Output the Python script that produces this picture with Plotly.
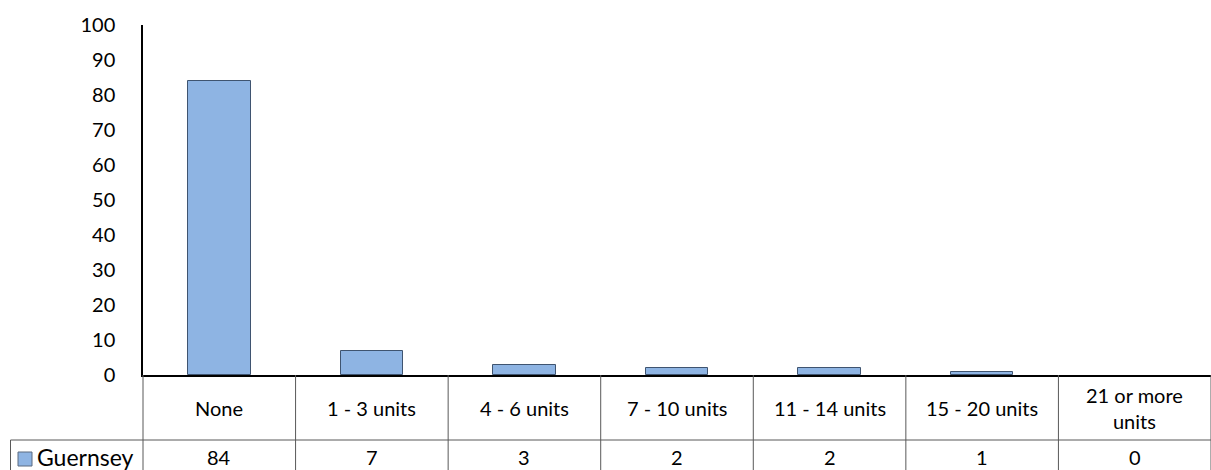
import plotly.graph_objects as go

# Units of alcohol per week - survey share (%)
categories = ["None", "1 - 3 units", "4 - 6 units", "7 - 10 units",
              "11 - 14 units", "15 - 20 units", "21 or more<br>units"]
guernsey = [84, 7, 3, 2, 2, 1, 0]
series_name = "Guernsey"
y_ticks = [0, 10, 20, 30, 40, 50, 60, 70, 80, 90, 100]

W, H = 1211, 470
ML, MR, MT, MB = 143, 0, 25, 95
plot_w = W - ML - MR
plot_h = H - MT - MB
n = len(categories)

FONT = "Lato, 'Open Sans', sans-serif"
BAR_FILL = "#8EB4E3"
BAR_LINE = "#3F5470"
TABLE_LINE = "#595959"


def px_x(px):
    return (px - ML) / plot_w


def px_y(px):
    return (H - MB - px) / plot_h


# empty categories get no visible outline
outline = [BAR_LINE if v > 0 else "rgba(0,0,0,0)" for v in guernsey]

fig = go.Figure(go.Bar(
    x=list(range(n)), y=guernsey, width=0.41,
    marker=dict(color=BAR_FILL, line=dict(color=outline, width=1)),
    showlegend=False, hoverinfo="skip",
))

shapes = []
# vertical dividers of the data table
for i in range(n + 1):
    xp = i / n
    shapes.append(dict(type="line", xref="paper", yref="paper",
                       x0=xp, x1=xp, y0=0, y1=px_y(H),
                       line=dict(color=TABLE_LINE, width=1)))
# horizontal divider between category row and value row
shapes.append(dict(type="line", xref="paper", yref="paper",
                   x0=px_x(10.5), x1=1, y0=px_y(440), y1=px_y(440),
                   line=dict(color=TABLE_LINE, width=1)))
# left edge of the series-name cell
shapes.append(dict(type="line", xref="paper", yref="paper",
                   x0=px_x(10.5), x1=px_x(10.5), y0=px_y(440), y1=px_y(H),
                   line=dict(color=TABLE_LINE, width=1)))
# legend key
shapes.append(dict(type="rect", xref="paper", yref="paper",
                   x0=px_x(18), x1=px_x(32), y0=px_y(466), y1=px_y(452),
                   fillcolor=BAR_FILL, line=dict(color="#5A6B80", width=1)))

annotations = []
for i, (cat, val) in enumerate(zip(categories, guernsey)):
    annotations.append(dict(x=i, xref="x", y=px_y(408), yref="paper",
                            yanchor="middle", xanchor="center",
                            text=cat, showarrow=False,
                            font=dict(family=FONT, size=20, color="#000")))
    annotations.append(dict(x=i, xref="x", y=px_y(457), yref="paper",
                            yanchor="middle", xanchor="center",
                            text=str(val), showarrow=False,
                            font=dict(family=FONT, size=20, color="#000")))
annotations.append(dict(x=px_x(35), xref="paper", y=px_y(457), yref="paper",
                        yanchor="middle", xanchor="left",
                        text=series_name, showarrow=False,
                        font=dict(family=FONT, size=23, color="#000")))

fig.update_layout(
    width=W, height=H,
    margin=dict(l=ML, r=MR, t=MT, b=MB),
    paper_bgcolor="white", plot_bgcolor="white",
    shapes=shapes, annotations=annotations,
    bargap=0,
    xaxis=dict(range=[-0.5, n - 0.5], showticklabels=False, showgrid=False,
               zeroline=False, showline=True, linecolor="black", linewidth=1.5,
               ticks=""),
    yaxis=dict(range=[0, 100], tickvals=y_ticks, showgrid=False,
               zeroline=False, showline=True, linecolor="black", linewidth=1.5,
               ticks="outside", ticklen=22, tickcolor="white",
               tickfont=dict(family=FONT, size=20, color="#000")),
)

fig.write_html("out.html")
